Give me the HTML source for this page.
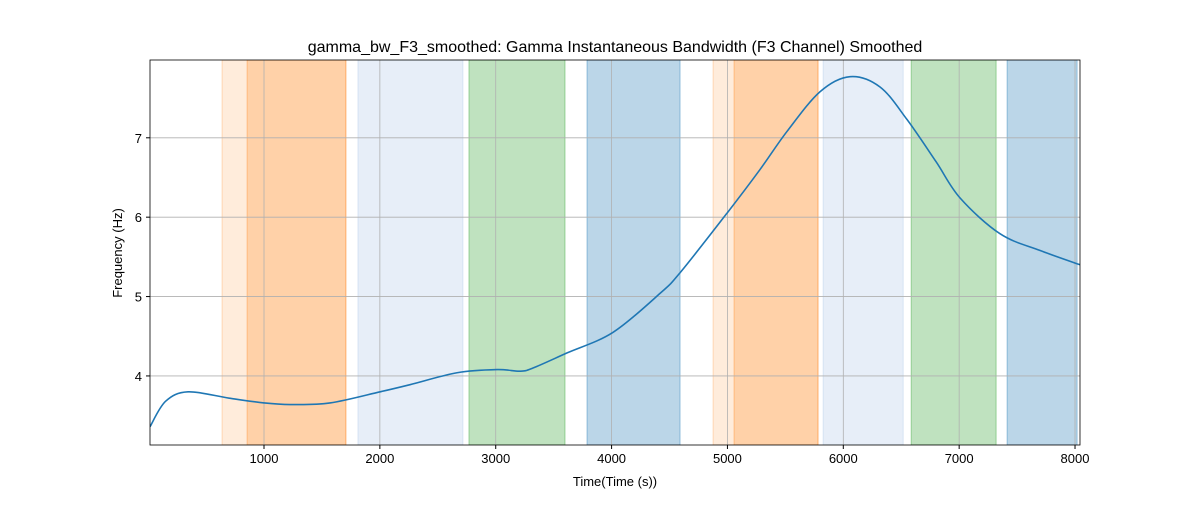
<!DOCTYPE html>
<html><head><meta charset="utf-8"><style>
body{margin:0;background:#fff;font-family:"Liberation Sans","DejaVu Sans",sans-serif}
</style></head><body>
<svg id="chart" width="1200" height="500" font-family="Liberation Sans, DejaVu Sans, sans-serif"></svg>
<script>
const bandStarts=[638,854,1811,2769,3788,4876,5057,5826,6586,7414];
const bandEnds=[1707,1707,2717,3598,4591,5782,5782,6517,7319,8018];
const bandKinds=["o1","o2","lb","g","b","o1","o2","lb","g","b"];
const xs=[16,150,345,700,1000,1225,1570,2002,2260,2666,3012,3210,3322,3616,4013,4418,4591,4996,5281,5514,5799,6058,6317,6550,6800,7009,7354,7699,8044];
const ys=[3.36,3.68,3.80,3.72,3.66,3.64,3.66,3.80,3.89,4.04,4.08,4.06,4.10,4.29,4.55,5.04,5.30,6.05,6.60,7.08,7.58,7.77,7.64,7.23,6.70,6.24,5.79,5.58,5.40];
const xTicks=[1000,2000,3000,4000,5000,6000,7000,8000];
const yTicks=[4,5,6,7];
const L=150,R=1080,T=60,B=445,xmin=16,xmax=8043,ymin=3.13,ymax=7.98;
const X=v=>L+(v-xmin)/(xmax-xmin)*(R-L);
const Y=v=>B-(v-ymin)/(ymax-ymin)*(B-T);
const svg=document.getElementById('chart');const NS='http://www.w3.org/2000/svg';
function mk(t,a,p){const e=document.createElementNS(NS,t);for(const k in a)e.setAttribute(k,a[k]);(p||svg).appendChild(e);return e;}
const styles={o1:["#ff7f0e",0.15],o2:["#ff7f0e",0.25],lb:["#aec7e8",0.3],g:["#2ca02c",0.3],b:["#1f77b4",0.3]};
const defs=mk('defs',{});const cp=mk('clipPath',{id:'c'},defs);mk('rect',{x:L,y:T,width:R-L,height:B-T},cp);
const g=mk('g',{'clip-path':'url(#c)'});
bandStarts.forEach((s,i)=>{const st=styles[bandKinds[i]];
const r=mk('rect',{x:X(s),y:T,width:X(bandEnds[i])-X(s),height:B-T,fill:st[0],'fill-opacity':st[1],stroke:st[0],'stroke-opacity':st[1]+0.1,'stroke-width':1},g);

});
xTicks.forEach(t=>{mk('line',{x1:X(t),x2:X(t),y1:T,y2:B,stroke:'#b0b0b0','stroke-width':0.8},g);
mk('line',{x1:X(t),x2:X(t),y1:B,y2:B+4,stroke:'#000'});
const tx=mk('text',{x:X(t),y:B+18,'text-anchor':'middle','font-size':13});tx.textContent=t;

});
yTicks.forEach(t=>{mk('line',{x1:L,x2:R,y1:Y(t),y2:Y(t),stroke:'#b0b0b0','stroke-width':0.8},g);
mk('line',{x1:L-4,x2:L,y1:Y(t),y2:Y(t),stroke:'#000'});
const tx=mk('text',{x:L-8,y:Y(t)+5,'text-anchor':'end','font-size':13});tx.textContent=t;

});
const P=xs.map((v,i)=>[X(v),Y(ys[i])]);
let d='M'+P[0][0]+','+P[0][1];
for(let i=0;i<P.length-1;i++){const p0=P[Math.max(0,i-1)],p1=P[i],p2=P[i+1],p3=P[Math.min(P.length-1,i+2)];
d+=` C${p1[0]+(p2[0]-p0[0])/6},${p1[1]+(p2[1]-p0[1])/6} ${p2[0]-(p3[0]-p1[0])/6},${p2[1]-(p3[1]-p1[1])/6} ${p2[0]},${p2[1]}`;}
const line=mk('path',{d:d,fill:'none',stroke:'#1f77b4','stroke-width':1.6},g);


mk('rect',{x:L,y:T,width:R-L,height:B-T,fill:'none',stroke:'#000','stroke-width':0.8});
const ti=mk('text',{x:615,y:52,'text-anchor':'middle','font-size':16});ti.textContent='gamma_bw_F3_smoothed: Gamma Instantaneous Bandwidth (F3 Channel) Smoothed';

const xl=mk('text',{x:615,y:486,'text-anchor':'middle','font-size':13});xl.textContent='Time(Time (s))';

const yl=mk('text',{x:122,y:253,'text-anchor':'middle','font-size':13,transform:'rotate(-90 122 253)'});yl.textContent='Frequency (Hz)';

</script>
</body></html>
